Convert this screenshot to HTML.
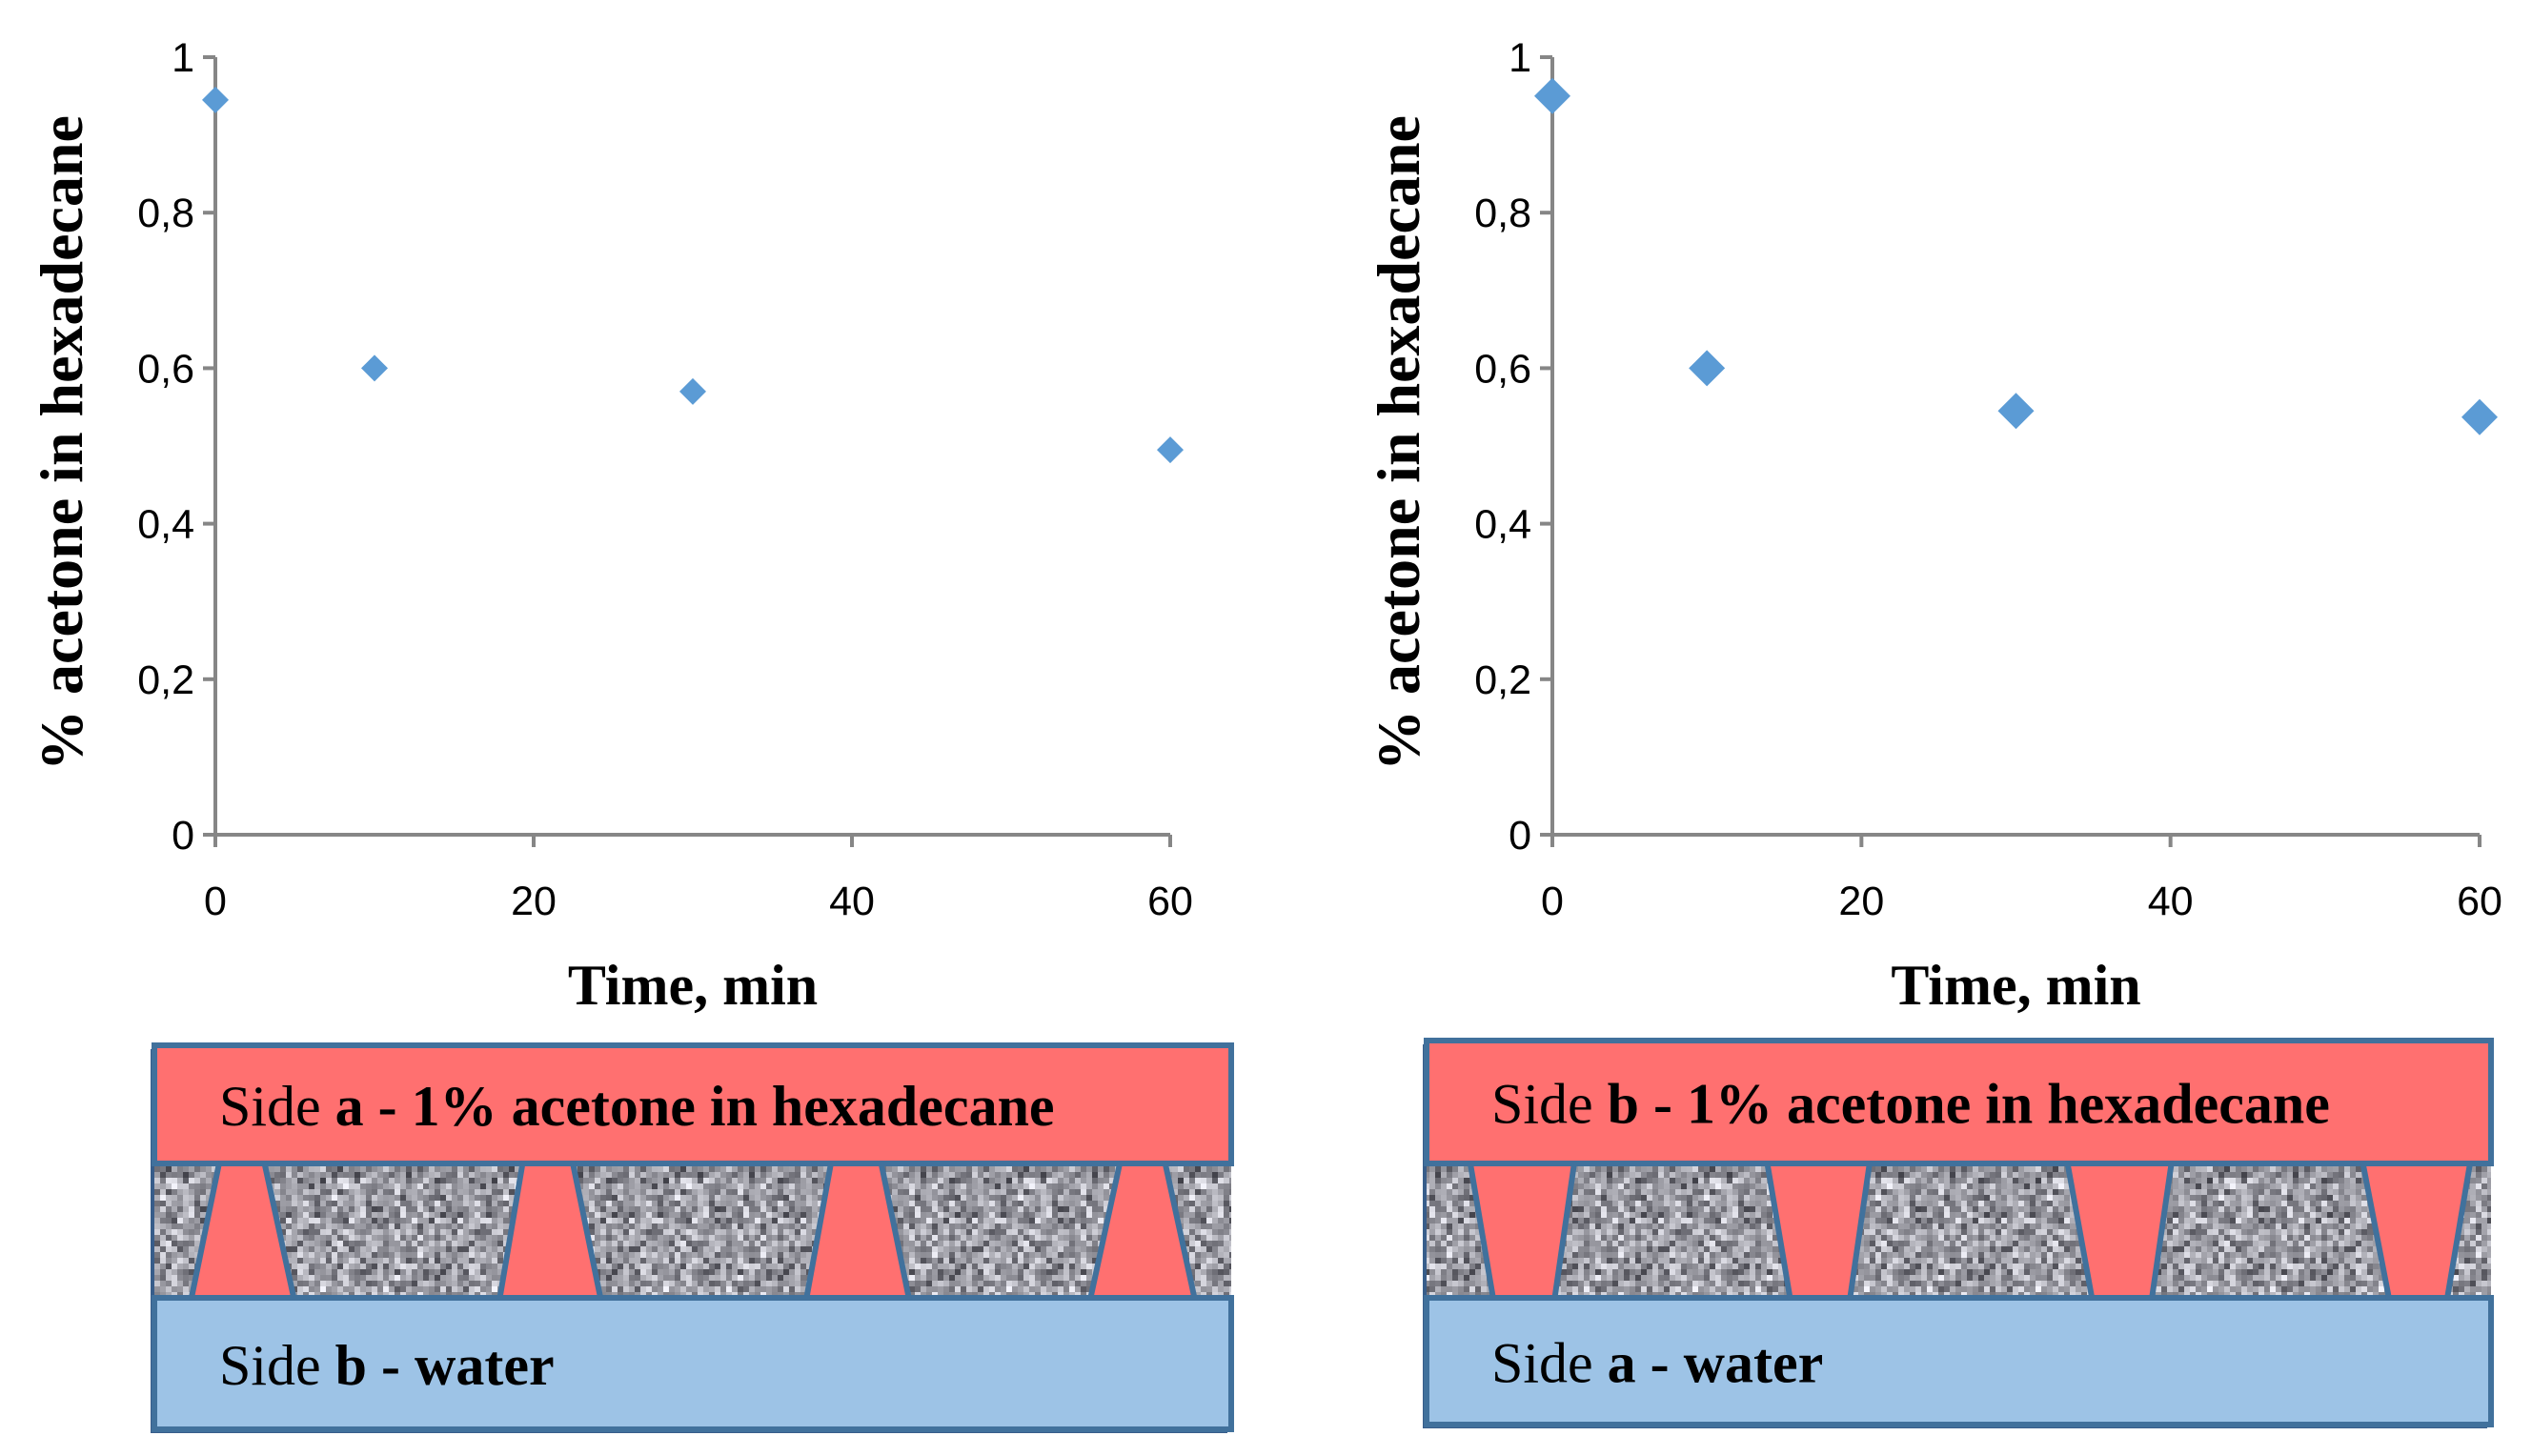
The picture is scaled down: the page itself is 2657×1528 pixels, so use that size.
<!DOCTYPE html>
<html><head><meta charset="utf-8"><style>
html,body{margin:0;padding:0;background:#fff;}
svg{display:block;}
text{font-family:"Liberation Serif",serif;}
.tick{font-family:"Liberation Sans",sans-serif;font-size:43px;fill:#000;}
</style></head><body>
<svg id="root" width="2657" height="1528" viewBox="0 0 2657 1528" xmlns="http://www.w3.org/2000/svg">
<defs>
<pattern id="noise" width="180" height="144" patternUnits="userSpaceOnUse"><g id="noiseg"></g></pattern>
</defs>
<g id="charts"></g>
<g id="diagrams"></g>
</svg>
<script>
// ---- chart data ----
const timesLeft = [0, 10, 30, 60];
const valuesLeft = [0.945, 0.6, 0.57, 0.495];
const timesRight = [0, 10, 30, 60];
const valuesRight = [0.95, 0.6, 0.545, 0.537];
const xTicks = [0, 20, 40, 60];
const yTicks = [0, 0.2, 0.4, 0.6, 0.8, 1];
const yTickLabels = ["0", "0,2", "0,4", "0,6", "0,8", "1"];

const NS = "http://www.w3.org/2000/svg";
function mk(tag, attrs, parent){const e=document.createElementNS(NS,tag);for(const k in attrs)e.setAttribute(k,attrs[k]);parent.appendChild(e);return e;}

function drawChart(id, x0, x1, times, vals, msize){
  const g = mk('g',{},document.getElementById('charts'));
  
  
  const y0=876, y1=60;
  const sx = v => x0 + (v/60)*(x1-x0);
  const sy = v => y0 - v*(y0-y1);
  const ax = mk('path',{d:`M${x0} ${y1} V${y0} H${x1}`,stroke:'#868686','stroke-width':4,fill:'none'},g);
  
  
  yTicks.forEach((t,i)=>{
    mk('line',{x1:x0-13,x2:x0,y1:sy(t),y2:sy(t),stroke:'#868686','stroke-width':4},g);
    const tx = mk('text',{x:x0-22,y:sy(t)+15,'text-anchor':'end',class:'tick'},g);
    tx.textContent = yTickLabels[i];
    
    
  });
  xTicks.forEach(t=>{
    mk('line',{x1:sx(t),x2:sx(t),y1:y0,y2:y0+13,stroke:'#868686','stroke-width':4},g);
    const tx = mk('text',{x:sx(t),y:y0+84,'text-anchor':'middle',class:'tick'},g);
    tx.textContent = t;
    
    
  });
  times.forEach((t,i)=>{
    const cx=sx(t), cy=sy(vals[i]);
    const p = mk('path',{d:`M${cx} ${cy-msize} L${cx+msize} ${cy} L${cx} ${cy+msize} L${cx-msize} ${cy}Z`,fill:'#5b9bd5'},g);
    
    
  });
  const xt = mk('text',{x:(x0+x1)/2,y:1054,'text-anchor':'middle','font-size':60,'font-weight':'bold'},g);
  xt.textContent='Time, min';
  
  
  const yt = mk('text',{x:0,y:0,'text-anchor':'middle','font-size':64,'font-weight':'bold',transform:`translate(${x0-140},465) rotate(-90)`},g);
  yt.textContent='% acetone in hexadecane';
  
  
}
drawChart('chart-left', 226, 1228, timesLeft, valuesLeft, 14);
drawChart('chart-right', 1629, 2602, timesRight, valuesRight, 19);

// noise texture
(function(){
  const ng=document.getElementById('noiseg');let s=12345;
  const r=()=>{s=(s*1103515245+12345)&0x7fffffff;return s/0x7fffffff;};
  for(let y=0;y<144;y+=6)for(let x=0;x<180;x+=6){
    const v=Math.floor(60+ (r()+r())/2*190);
    const c=Math.max(20,Math.min(245,v));
    mk('rect',{x:x,y:y,width:6,height:6,fill:`rgb(${c},${c},${c+8})`},ng);
  }
})();

function drawDiagram(id, bx, by, bw, bh, redH, matH, channels, topBold, botBold){
  const g = mk('g',{},document.getElementById('diagrams'));
  
  
  const yRed=by+redH, yMat=yRed+matH;
  mk('rect',{x:bx-4,y:by+4,width:bw,height:bh,fill:'#385d8a'},g);
  mk('rect',{x:bx,y:yRed,width:bw,height:matH,fill:'url(#noise)'},g);
  const red = mk('rect',{x:bx,y:by,width:bw,height:redH,fill:'#ff7070',stroke:'#41719c','stroke-width':6},g);
  
  
  const blue = mk('rect',{x:bx,y:yMat,width:bw,height:bh-redH-matH,fill:'#9dc3e6',stroke:'#41719c','stroke-width':6},g);
  
  
  channels.forEach(c=>{
    const p = mk('path',{d:`M${c[0]} ${yRed} L${c[1]} ${yRed} L${c[3]} ${yMat} L${c[2]} ${yMat}Z`,fill:'#ff7070',stroke:'#41719c','stroke-width':6,'stroke-linejoin':'round'},g);
    
    
  });
  const t1 = mk('text',{x:bx+68,y:by+redH/2+22,'font-size':60},g);
  t1.innerHTML = `<tspan>Side </tspan><tspan font-weight="bold">${topBold}</tspan>`;
  
  
  const t2 = mk('text',{x:bx+68,y:yMat+(bh-redH-matH)/2+22,'font-size':60},g);
  t2.innerHTML = `<tspan>Side </tspan><tspan font-weight="bold">${botBold}</tspan>`;
  
  
}
const k=1.703;
const chL=[[135,163,118,181],[322,353,308,370],[512,543,497,560],[690,718,672,736]].map(a=>a.map(v=>v*k));
const chR=[[906,970,920,958],[1089,1152,1103,1140],[1274,1338,1289,1326],[1456,1522,1472,1508]].map(a=>a.map(v=>v*k));
drawDiagram('diagram-left',162,1097,1130,403,124,141,chL,'a - 1% acetone in hexadecane','b - water');
drawDiagram('diagram-right',1497,1092,1117,403,129,141,chR,'b - 1% acetone in hexadecane','a - water');
</script>
</body></html>
